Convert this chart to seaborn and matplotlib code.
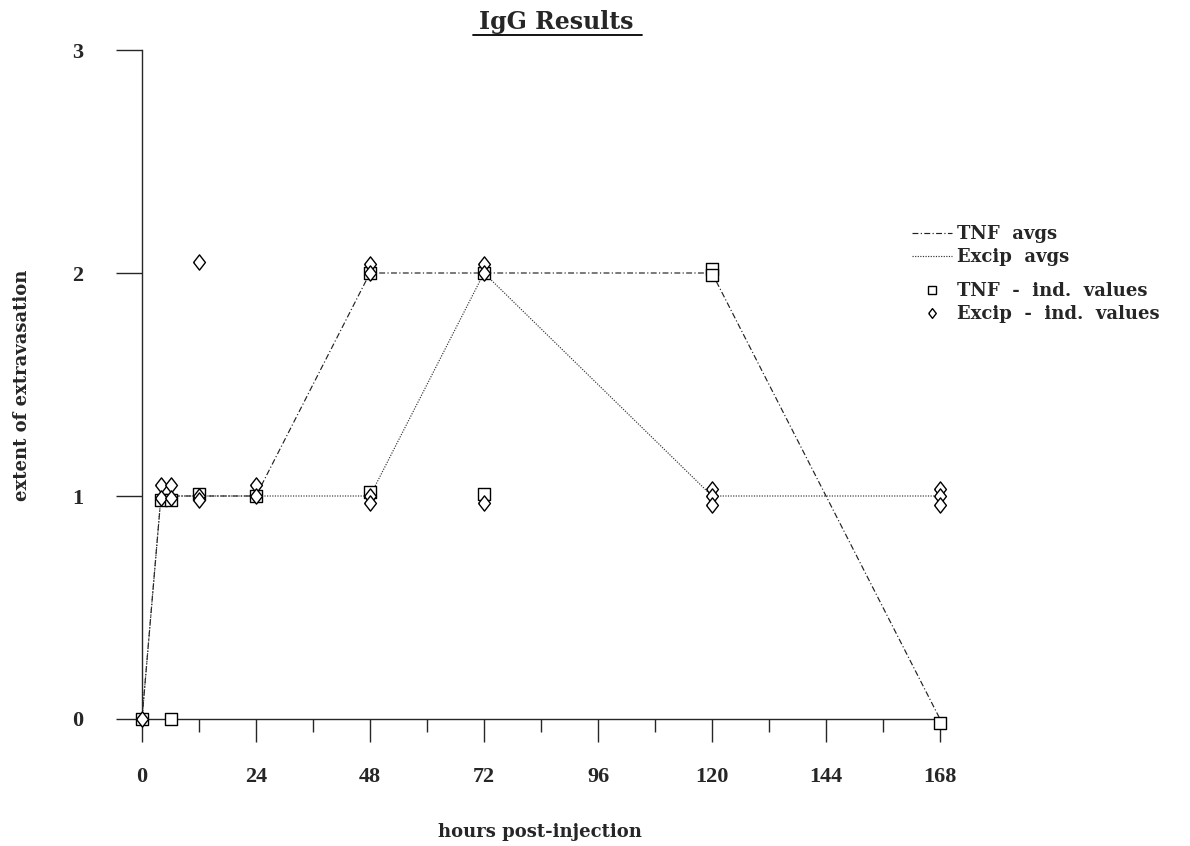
import numpy as np
import pandas as pd
import matplotlib
matplotlib.use("Agg")
import matplotlib.pyplot as plt
from matplotlib.lines import Line2D
import seaborn as sns

# averages per time point
avg_hours = [0, 4, 6, 12, 24, 48, 72, 120, 168]
tnf_avg = [0, 1, 1, 1, 1, 2, 2, 2, 0]
excip_avg = [0, 1, 1, 1, 1, 1, 2, 1, 1]

# individual values (small offsets as drawn, to show overlapping points)
tnf_ind_hours = [0, 4, 6, 6, 12, 24, 48, 48, 72, 72, 120, 120, 168]
tnf_ind_vals = [0, 0.98, 0.98, 0, 1.01, 1.0, 2.0, 1.02, 2.0, 1.01, 2.02, 1.99, -0.02]

excip_ind_hours = [0, 4, 4, 6, 6, 12, 12, 12, 24, 24, 48, 48, 48, 48,
                   72, 72, 72, 120, 120, 120, 168, 168, 168]
excip_ind_vals = [0, 1.05, 0.99, 1.05, 0.99, 2.05, 1.0, 0.98, 1.05, 1.0,
                  2.04, 2.0, 1.0, 0.97, 2.04, 2.0, 0.97, 1.03, 1.0, 0.96,
                  1.03, 1.0, 0.96]

x_ticks = [0, 24, 48, 72, 96, 120, 144, 168]
y_ticks = [0, 1, 2, 3]

sns.set_style("ticks")
plt.rcParams['font.family'] = ['DejaVu Serif']
plt.rcParams['font.weight'] = 'bold'

W, H = 1190, 846
fig = plt.figure(figsize=(11.9, 8.46), dpi=100)
ax = fig.add_axes([142 / W, 1 - 719 / H, (940 - 142) / W, (719 - 50) / H])

avg = pd.DataFrame({'hours': avg_hours, 'TNF': tnf_avg, 'Excip': excip_avg})
tnf_ind = pd.DataFrame({'hours': tnf_ind_hours, 'val': tnf_ind_vals})
excip_ind = pd.DataFrame({'hours': excip_ind_hours, 'val': excip_ind_vals})

tnf_ls = (0, (5, 2, 1, 2))
excip_ls = (0, (1, 1.2))
diamond = [(-0.78, 0), (0, 1), (0.78, 0), (0, -1), (-0.78, 0)]

sns.lineplot(data=avg, x='hours', y='TNF', ax=ax, color='#222222',
             linestyle=tnf_ls, linewidth=0.85, clip_on=False)
sns.lineplot(data=avg, x='hours', y='Excip', ax=ax, color='#333333',
             linestyle=excip_ls, linewidth=0.85, clip_on=False)
sns.scatterplot(data=tnf_ind, x='hours', y='val', ax=ax, marker='s', s=70,
                facecolor='white', edgecolor='black', linewidth=1.0,
                clip_on=False, zorder=3)
sns.scatterplot(data=excip_ind, x='hours', y='val', ax=ax, marker=diamond, s=120,
                facecolor='white', edgecolor='black', linewidth=1.0,
                clip_on=False, zorder=4)

ax.set_xlim(0, 168)
ax.set_ylim(0, 3)
ax.set_xticks(x_ticks)
ax.set_xticks(np.arange(0, 169, 12), minor=True)
ax.set_yticks(y_ticks)
ax.tick_params(axis='x', which='major', direction='out', length=16.5, width=1,
               pad=18)
ax.tick_params(axis='x', which='minor', direction='out', length=9, width=1)
ax.tick_params(axis='y', which='major', direction='out', length=18.5, width=1,
               pad=24)
for lab in ax.get_xticklabels() + ax.get_yticklabels():
    lab.set_fontfamily('Liberation Serif')
    lab.set_fontweight('bold')
    lab.set_fontsize(16)
sns.despine(ax=ax)
ax.spines['left'].set_linewidth(1)
ax.spines['bottom'].set_linewidth(1)

ax.set_xlabel('hours post-injection', fontsize=13, fontweight='bold')
ax.xaxis.set_label_coords((540 - 142) / (940 - 142), -(832 - 719) / (719 - 50))
ax.xaxis.label.set_va('center')
ax.set_ylabel('extent of extravasation', fontsize=13, fontweight='bold')
ax.yaxis.set_label_coords(-(142 - 22) / (940 - 142), (719 - 385) / (719 - 50))
ax.yaxis.label.set_va('center')

fig.text(556 / W, 1 - 22 / H, 'IgG Results', ha='center', va='center',
         fontsize=17, fontweight='bold')
fig.add_artist(Line2D([473 / W, 642 / W], [1 - 35 / H, 1 - 35 / H],
                      color='black', linewidth=1.3, transform=fig.transFigure))

legend_prop = {'family': 'DejaVu Serif', 'weight': 'bold', 'size': 13}
line_handles = [
    Line2D([], [], color='#222222', linestyle=tnf_ls, linewidth=0.85),
    Line2D([], [], color='#333333', linestyle=excip_ls, linewidth=0.85),
]
mark_handles = [
    Line2D([], [], marker='s', linestyle='none', markersize=5.5,
           markerfacecolor='white', markeredgecolor='black'),
    Line2D([], [], marker=diamond, linestyle='none', markersize=7,
           markerfacecolor='white', markeredgecolor='black'),
]
leg1 = fig.legend(line_handles, ['TNF  avgs', 'Excip  avgs'], loc='upper left',
                  bbox_to_anchor=(903 / W, 1 - 216 / H), frameon=False, borderpad=0,
                  handlelength=2.2, handletextpad=0.3, labelspacing=0.3,
                  prop=legend_prop)
fig.legend(mark_handles, ['TNF  -  ind.  values', 'Excip  -  ind.  values'],
           loc='upper left', bbox_to_anchor=(903 / W, 1 - 273 / H), frameon=False,
           borderpad=0, handlelength=2.2, handletextpad=0.3, labelspacing=0.3,
           prop=legend_prop)

fig.savefig('out.png', dpi=100)
